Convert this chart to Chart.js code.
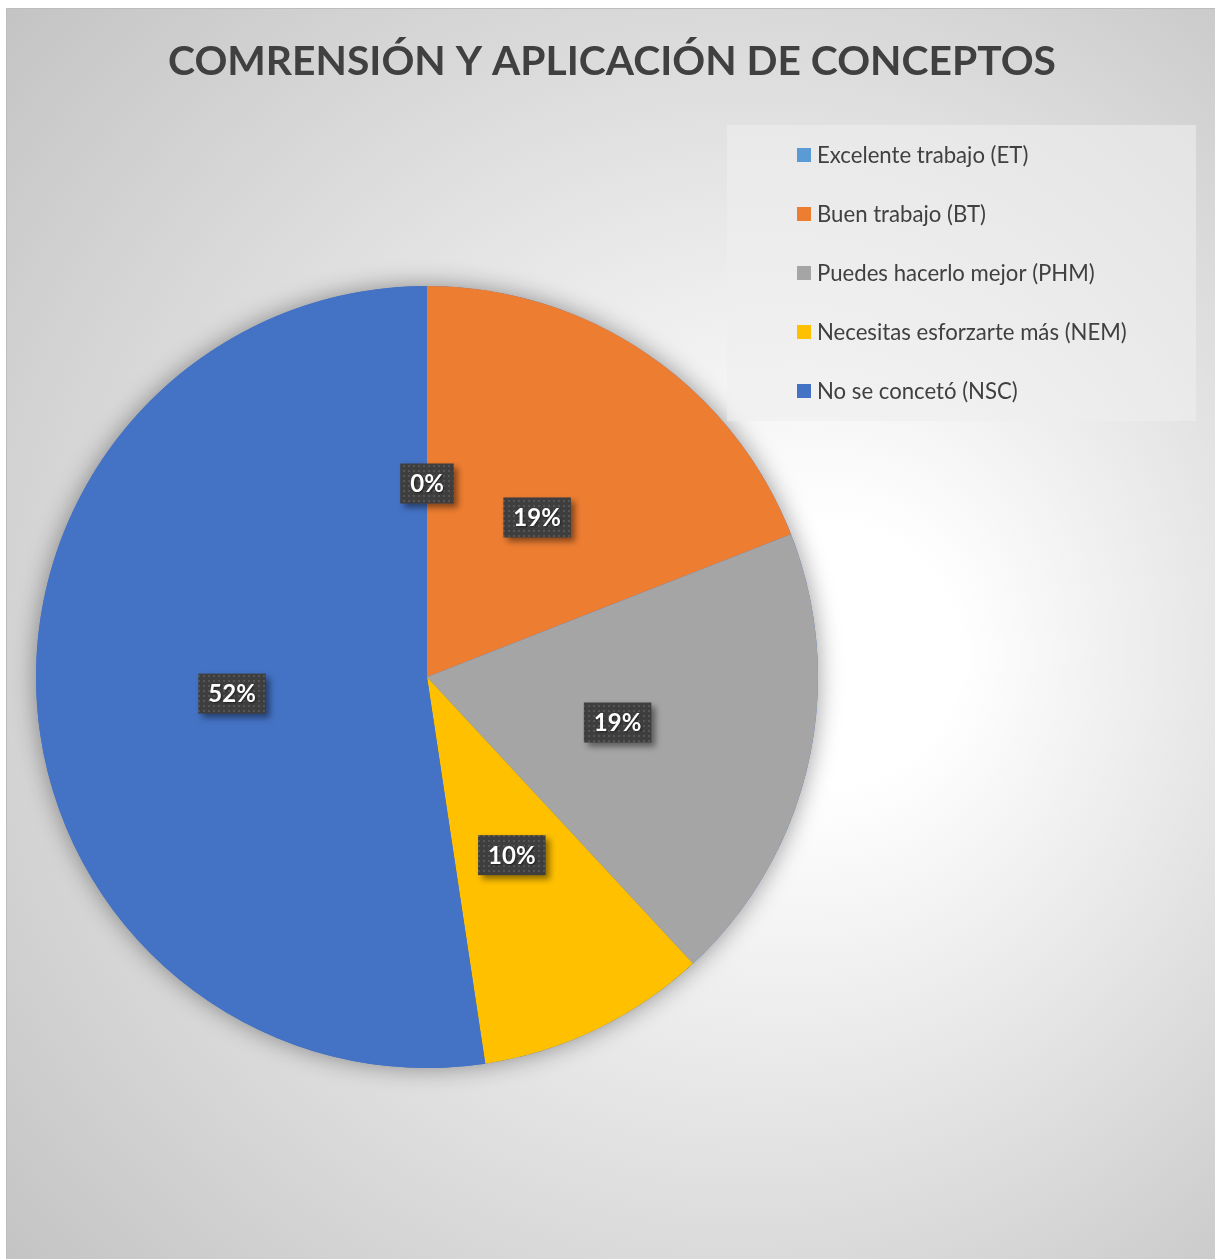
<!DOCTYPE html>
<html>
<head>
<meta charset="utf-8">
<script src="https://cdn.jsdelivr.net/npm/chart.js@4/dist/chart.umd.min.js"></script>
<style>
  html, body { margin: 0; padding: 0; background: #ffffff; }
  #box { position: absolute; left: 6px; top: 8px; width: 1220px; height: 1260px;
         border-left: 1px solid #bdbdbd; border-top: 1px solid #bdbdbd; overflow: hidden; }
  canvas { position: absolute; left: 0; top: 0; }
</style>
</head>
<body>
<div id="box"><canvas id="c" width="1208" height="1250"></canvas></div>
<script>
const chartTitle = 'COMRENSIÓN Y APLICACIÓN DE CONCEPTOS';
const categories = [
  'Excelente trabajo (ET)',
  'Buen trabajo (BT)',
  'Puedes hacerlo mejor (PHM)',
  'Necesitas esforzarte más (NEM)',
  'No se concetó (NSC)'
];
const counts = [0, 4, 4, 2, 11];
const sliceColors = ['#5B9BD5', '#ED7D31', '#A5A5A5', '#FFC000', '#4472C4'];

const FONT = 'Lato, "Open Sans", "DejaVu Sans", sans-serif';

function fitFont(ctx, text, weight, targetW) {
  ctx.font = weight + ' 100px ' + FONT;
  const w = ctx.measureText(text).width;
  return 100 * targetW / w;
}

const bgPlugin = {
  id: 'bg',
  beforeDraw(chart) {
    const ctx = chart.ctx, W = chart.width, H = chart.height;
    ctx.save();
    const cx = W / 2, cy = H / 2, R = Math.sqrt(cx * cx + cy * cy);
    const g = ctx.createRadialGradient(850, 650, 0, cx + 60, cy, R + 40);
    g.addColorStop(0, '#ffffff');
    g.addColorStop(0.14, '#ffffff');
    g.addColorStop(1, '#c4c4c4');
    ctx.fillStyle = g;
    ctx.fillRect(0, 0, W, H);
    // title
    const fs = fitFont(ctx, chartTitle, 'bold', 888);
    ctx.font = 'bold ' + fs + 'px ' + FONT;
    ctx.fillStyle = '#404040';
    ctx.textAlign = 'center';
    ctx.textBaseline = 'alphabetic';
    ctx.fillText(chartTitle, 605, 66);
    ctx.restore();
  },
  beforeDatasetsDraw(chart) {
    const meta = chart.getDatasetMeta(0);
    const a = meta.data[0];
    const ctx = chart.ctx;
    ctx.save();
    ctx.shadowColor = 'rgba(0,0,0,0.4)';
    ctx.shadowBlur = 24;
    ctx.fillStyle = '#4472C4';
    ctx.beginPath();
    ctx.arc(a.x, a.y, a.outerRadius, 0, Math.PI * 2);
    ctx.fill();
    ctx.restore();
  }
};

let dotPattern = null;
function getPattern(ctx) {
  if (dotPattern) return dotPattern;
  const p = document.createElement('canvas');
  p.width = 5; p.height = 5;
  const pc = p.getContext('2d');
  pc.fillStyle = '#3e3e3e';
  pc.fillRect(0, 0, 5, 5);
  pc.fillStyle = '#555555';
  pc.fillRect(1, 1, 2, 2);
  dotPattern = ctx.createPattern(p, 'repeat');
  return dotPattern;
}

const labelPlugin = {
  id: 'labels',
  afterDatasetsDraw(chart) {
    const ctx = chart.ctx;
    const meta = chart.getDatasetMeta(0);
    const data = chart.data.datasets[0].data;
    const total = data.reduce((s, v) => s + v, 0);
    meta.data.forEach((arc, i) => {
      const mid = (arc.startAngle + arc.endAngle) / 2;
      const r = arc.outerRadius * 0.5;
      const x = arc.x + Math.cos(mid) * r;
      const y = arc.y + Math.sin(mid) * r + 2;
      const txt = Math.round(data[i] / total * 100) + '%';
      ctx.save();
      ctx.font = 'bold 24px ' + FONT;
      const tw = ctx.measureText(txt).width;
      const bw = tw + 20, bh = 40;
      ctx.shadowColor = 'rgba(0,0,0,0.45)';
      ctx.shadowBlur = 6;
      ctx.shadowOffsetX = 4;
      ctx.shadowOffsetY = 4;
      ctx.fillStyle = getPattern(ctx);
      ctx.fillRect(x - bw / 2, y - bh / 2, bw, bh);
      ctx.shadowColor = 'rgba(0,0,0,0.5)';
      ctx.shadowBlur = 2;
      ctx.shadowOffsetX = 1;
      ctx.shadowOffsetY = 1;
      ctx.fillStyle = '#ffffff';
      ctx.textAlign = 'center';
      ctx.textBaseline = 'middle';
      ctx.fillText(txt, x, y + 1);
      ctx.restore();
    });
  },
  afterDraw(chart) {
    const ctx = chart.ctx;
    ctx.save();
    // legend panel
    ctx.fillStyle = 'rgba(238,238,238,0.6)';
    ctx.fillRect(720, 116, 469, 296);
    const labels = chart.data.labels;
    const colors = chart.data.datasets[0].backgroundColor;
    const fs = fitFont(ctx, labels[3], 'normal', 310);
    ctx.font = fs + 'px ' + FONT;
    ctx.textAlign = 'left';
    ctx.textBaseline = 'middle';
    labels.forEach((lab, i) => {
      const y = 146 + i * 59;
      ctx.fillStyle = colors[i];
      ctx.fillRect(790, y - 7, 14, 14);
      ctx.fillStyle = '#404040';
      ctx.fillText(lab, 810, y + 1);
    });
    ctx.restore();
  }
};

new Chart(document.getElementById('c'), {
  type: 'pie',
  data: {
    labels: categories,
    datasets: [{
      data: counts,
      backgroundColor: sliceColors,
      borderWidth: 0,
      hoverOffset: 0,
      offset: 0
    }]
  },
  options: {
    responsive: false,
    animation: false,
    devicePixelRatio: 1,
    layout: { padding: { left: 29, right: 397, top: 277, bottom: 191 } },
    plugins: {
      legend: { display: false },
      title: { display: false },
      tooltip: { enabled: false }
    }
  },
  plugins: [bgPlugin, labelPlugin]
});
</script>
</body>
</html>
